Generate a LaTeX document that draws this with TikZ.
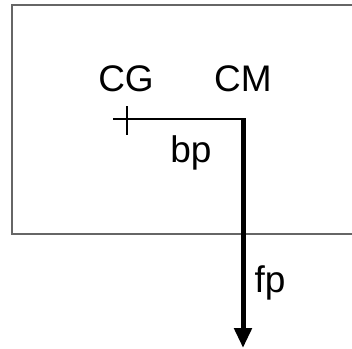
\documentclass[tikz,border=0pt]{standalone}
\usepackage{fontspec}
\setmainfont{Liberation Sans}
\usetikzlibrary{arrows.meta}
\begin{document}
\begin{tikzpicture}[x=1pt,y=-1pt,
  lbl/.style={inner sep=0pt,font=\fontsize{37}{37}\selectfont},
  boxline/.style={draw=black!60,line width=1.3pt},
  thin/.style={line width=2.2pt},
  force/.style={line width=5pt,-{Triangle[length=20pt,width=17pt]}}]
\useasboundingbox (0,0) rectangle (352,348);
\draw[boxline] (360,5) -- (12,5) -- (12,234) -- (360,234);
\coordinate (cg) at (127,119);
\coordinate (cm) at (243,119);
\coordinate (tip) at (243,348);
\node[lbl] (lcg) at (126,79) {CG};
\node[lbl] (lcm) at (243,79) {CM};
\node[lbl,anchor=base] (lbp) at (191,162) {bp};
\node[lbl,anchor=base] (lfp) at (270,292) {fp};
\draw[line width=1.2pt] (113,119) -- (cg);
\draw[line width=1.2pt] (127,106) -- (127,135);
\draw[thin] (cg) -- ([xshift=2.5pt]cm);
\draw[force] ([yshift=-1.1pt]cm) -- (tip);
\end{tikzpicture}
\end{document}
